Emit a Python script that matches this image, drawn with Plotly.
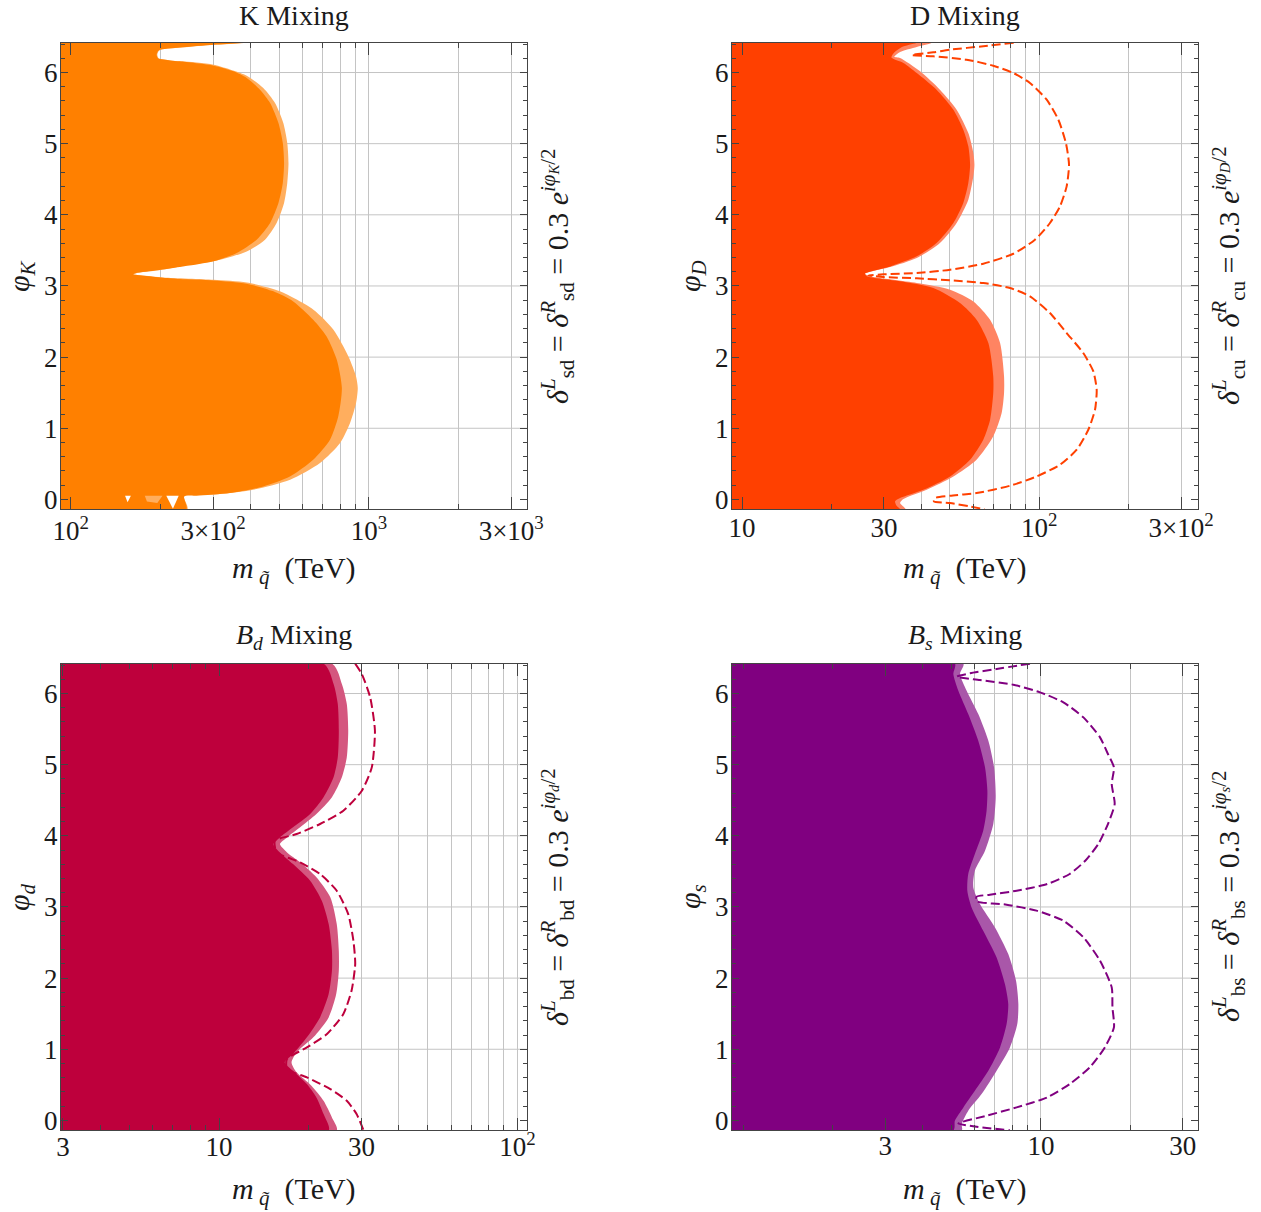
import plotly.graph_objects as go

# ------------------------------------------------------------------
# Data: phi values and squark mass (TeV)
# ------------------------------------------------------------------
# --- K mixing ---
k_dark_phi = [6.42, 6.39, 6.35, 6.31, 6.25, 6.20, 6.17, 6.157, 6.096, 6.017, 5.923, 5.759, 5.572, 5.29, 5.009,
              4.728, 4.447, 4.166, 3.885, 3.650, 3.463, 3.346, 3.266, 3.22, 3.18, 3.165, 3.15, 3.12, 3.097, 3.078,
              3.032, 2.924, 2.783, 2.526, 2.291, 1.963, 1.565, 1.167, 0.839, 0.558, 0.323, 0.183, 0.089, 0.051,
              0.042, -0.14]
k_dark_m = [382, 300, 232, 197, 194, 196, 215, 232, 301, 351, 389, 431, 466, 497, 514,
            519, 514, 497, 466, 420, 360, 301, 232, 195, 165, 162, 170, 200, 232, 301,
            389, 478, 557, 650, 721, 780, 811, 789, 740, 650, 543, 442, 342, 264,
            240, 244]
k_light_phi = [6.42, 6.39, 6.35, 6.31, 6.25, 6.20, 6.17, 6.157, 6.11, 5.956, 5.782, 5.572, 5.29, 5.009, 4.728,
               4.447, 4.166, 3.885, 3.65, 3.486, 3.346, 3.275, 3.22, 3.18, 3.165, 3.15, 3.12, 3.088, 3.05, 2.924,
               2.666, 2.385, 2.01, 1.729, 1.565, 1.354, 1.073, 0.792, 0.511, 0.276, 0.136, 0.066, 0.042, -0.14]
k_light_m = [390, 305, 235, 198, 195, 197, 216, 235, 301, 389, 442, 484, 516, 532, 537,
             532, 519, 490, 448, 389, 301, 232, 197, 166, 162, 172, 205, 301, 389, 503,
             651, 760, 853, 905, 917, 905, 864, 800, 685, 544, 409, 301, 240, 246]
k_gap_m = [209, 230, 220]
k_gap_phi = [0.05, 0.05, -0.13]
k_speck_m = [152, 159, 155]
k_speck_phi = [0.05, 0.05, -0.04]
k_patch_m = [177, 203, 195, 180]
k_patch_phi = [0.05, 0.05, -0.05, -0.03]

# --- D mixing ---
d_dark_phi = [6.42, 6.36, 6.28, 6.21, 6.134, 5.993, 5.759, 5.478, 5.197, 4.962, 4.705, 4.447, 4.166, 3.885, 3.603,
              3.416, 3.275, 3.172, 3.135, 3.065, 2.971, 2.760, 2.526, 2.198, 1.729, 1.495, 1.120, 0.839, 0.558,
              0.323, 0.136, 0.019, -0.028, -0.098, -0.14]
d_dark_m = [38.7, 34.5, 32.5, 31.8, 34.9, 38.7, 45.1, 51.4, 55.5, 57.7, 58.5, 57.7, 55.5, 51.4, 45.1,
            38.7, 31.5, 25.9, 26.3, 34.0, 44.0, 54.1, 61.5, 67.4, 70.0, 70.0, 68.3, 64.8, 58.5,
            50.1, 40.7, 34.0, 32.7, 33.2, 34.0]
d_light_phi = [6.42, 6.36, 6.29, 6.22, 6.204, 6.017, 5.759, 5.478, 5.15, 4.869, 4.705, 4.541, 4.213, 3.885, 3.603,
               3.393, 3.266, 3.172, 3.135, 3.041, 2.948, 2.783, 2.526, 2.198, 1.729, 1.495, 1.214, 0.886, 0.558,
               0.323, 0.136, 0.005, -0.05, -0.14]
d_light_m = [43.5, 38.7, 34.0, 32.5, 34.0, 39.7, 46.3, 52.7, 57.7, 60.0, 60.5, 60.0, 57.7, 52.7, 46.3,
             38.7, 31.5, 25.9, 27.0, 38.7, 50.1, 60.0, 68.3, 73.8, 76.1, 76.1, 74.7, 70.0, 61.5,
             51.4, 41.8, 34.9, 34.0, 35.5]
d_dash_phi = [6.42, 6.37, 6.321, 6.284, 6.246, 6.228, 6.181, 6.096, 5.993, 5.853, 5.618, 5.337, 5.009, 4.705,
              4.40, 4.119, 3.885, 3.650, 3.453, 3.313, 3.228, 3.182, 3.163, 3.149, 3.125, 3.107, 3.079, 3.041,
              2.971, 2.854, 2.619, 2.338, 2.057, 1.799, 1.542, 1.260, 0.979, 0.698, 0.487, 0.323, 0.192, 0.089,
              0.051, 0.019, -0.028, -0.052, -0.099, -0.14]
d_dash_m = [82.0, 64.8, 50.1, 44.0, 37.2, 44.0, 56.9, 70.0, 81.8, 93.0, 105.9, 115.9, 122.9, 125.9,
            123.6, 117.4, 108.6, 96.7, 81.8, 64.8, 50.1, 38.7, 29.9, 26.6, 29.9, 38.7, 50.1, 64.8,
            79.7, 93.0, 108.6, 123.6, 140.6, 152.0, 156.0, 154.0, 146.2, 133.6, 117.4, 98.0, 79.7, 61.5,
            50.1, 44.6, 44.2, 50.1, 58.5, 65.5]

# --- B_d mixing ---
bd_dark_phi = [6.42, 6.134, 5.853, 5.478, 5.103, 4.822, 4.541, 4.306, 4.119, 3.978, 3.884, 3.767, 3.603, 3.369,
               3.088, 2.760, 2.385, 2.104, 1.776, 1.448, 1.167, 0.932, 0.815, 0.698, 0.511, 0.323, 0.089, -0.14]
bd_dark_m = [22.4, 24.2, 25.0, 25.2, 25.0, 24.2, 22.4, 20.2, 17.7, 16.0, 15.2, 16.0, 17.7, 20.2,
             22.1, 23.3, 23.9, 23.9, 23.3, 21.8, 19.7, 17.7, 16.6, 17.7, 19.7, 21.2, 22.4, 23.3]
bd_light_phi = [6.42, 6.134, 5.853, 5.478, 5.103, 4.822, 4.541, 4.306, 4.119, 3.978, 3.884, 3.767, 3.627, 3.416,
                3.135, 2.760, 2.385, 2.104, 1.776, 1.448, 1.167, 0.956, 0.815, 0.675, 0.487, 0.276, 0.042, -0.14]
bd_light_m = [23.9, 25.8, 26.8, 27.1, 26.8, 25.8, 23.9, 21.2, 18.7, 16.9, 16.0, 16.9, 18.7, 21.2,
              23.6, 24.8, 25.2, 25.2, 24.7, 23.3, 20.7, 18.2, 17.5, 18.2, 20.4, 22.4, 23.9, 24.8]
bd_dash_phi = [6.42, 6.274, 5.946, 5.478, 4.962, 4.634, 4.353, 4.166, 4.025, 3.931, 3.767, 3.627, 3.463, 3.228,
               2.900, 2.526, 2.198, 1.823, 1.495, 1.214, 1.026, 0.862, 0.722, 0.604, 0.440, 0.276, 0.089, -0.14]
bd_dash_m = [28.6, 30.1, 32.1, 33.3, 32.5, 30.1, 26.1, 21.8, 18.2, 15.4, 15.6, 18.7, 21.8, 24.8,
             27.1, 28.2, 28.6, 27.8, 26.1, 23.0, 19.7, 16.9, 16.9, 19.7, 23.6, 26.8, 28.9, 30.5]

# --- B_s mixing ---
bs_dark_phi = [6.42, 6.274, 6.04, 5.712, 5.337, 4.962, 4.634, 4.353, 4.072, 3.744, 3.463, 3.228, 2.994, 2.666,
               2.291, 1.917, 1.635, 1.354, 1.026, 0.698, 0.417, 0.183, -0.005, -0.14]
bs_dark_m = [5.14, 5.08, 5.28, 5.70, 6.16, 6.49, 6.61, 6.57, 6.40, 6.00, 5.70, 5.66, 5.85, 6.40,
             7.10, 7.57, 7.77, 7.67, 7.29, 6.66, 6.00, 5.49, 5.14, 5.08]
bs_light_phi = [6.42, 6.274, 6.04, 5.712, 5.337, 4.962, 4.541, 4.166, 3.791, 3.510, 3.275, 3.041, 2.713, 2.338,
                1.963, 1.635, 1.354, 1.026, 0.698, 0.370, 0.136, -0.052, -0.14]
bs_light_m = [5.49, 5.35, 5.63, 6.16, 6.66, 6.96, 7.05, 6.92, 6.49, 6.00, 5.93, 6.24, 7.01, 7.77,
              8.25, 8.40, 8.33, 7.87, 7.10, 6.32, 5.70, 5.42, 5.42]
bs_dash_phi = [6.42, 6.345, 6.284, 6.237, 6.19, 6.124, 6.017, 5.876, 5.665, 5.384, 5.15, 4.962, 4.728, 4.447,
               4.166, 3.885, 3.650, 3.463, 3.322, 3.228, 3.172, 3.144, 3.079, 3.032, 2.948, 2.807, 2.573, 2.245,
               1.87, 1.588, 1.307, 1.026, 0.745, 0.511, 0.323, 0.183, 0.066, -0.043, -0.089, -0.14]
bs_dash_m = [9.19, 7.10, 5.78, 5.21, 6.24, 8.08, 9.93, 11.9, 13.9, 15.8, 16.8, 17.6, 17.3, 17.7,
             16.8, 15.6, 14.1, 12.5, 10.5, 8.29, 6.74, 6.08, 6.08, 7.67, 9.67, 11.9, 13.9, 15.8,
             17.3, 17.4, 17.6, 16.4, 14.6, 12.5, 10.5, 8.29, 6.57, 5.28, 6.08, 7.87]

# --- axes / labels ---
phi_ticks = [0, 1, 2, 3, 4, 5, 6]
phi_grid = [1, 2, 3, 4, 5, 6]
k_tickvals = [100, 300, 1000, 3000]
k_ticktext = ["10<sup>2</sup>", "3×10<sup>2</sup>", "10<sup>3</sup>", "3×10<sup>3</sup>"]
k_minor = [200, 400, 500, 600, 700, 800, 900, 2000]
d_tickvals = [10, 30, 100, 300]
d_ticktext = ["10", "30", "10<sup>2</sup>", "3×10<sup>2</sup>"]
d_minor = [20, 40, 50, 60, 70, 80, 90, 200]
bd_tickvals = [3, 10, 30, 100]
bd_ticktext = ["3", "10", "30", "10<sup>2</sup>"]
bd_minor = [4, 5, 6, 7, 8, 9, 20, 40, 50, 60, 70, 80, 90]
bs_tickvals = [3, 10, 30]
bs_ticktext = ["3", "10", "30"]
bs_minor = [1, 2, 4, 5, 6, 7, 8, 9, 20]

titles = ["K Mixing", "D Mixing", "<i>B<sub>d</sub></i> Mixing", "<i>B<sub>s</sub></i> Mixing"]
ylabels = ["<i>φ<sub>K</sub></i>", "<i>φ<sub>D</sub></i>", "<i>φ<sub>d</sub></i>", "<i>φ<sub>s</sub></i>"]
flav = ["sd", "cu", "bd", "bs"]
phase_sub = ["K", "D", "d", "s"]
xlabel = "<i>m</i><sub> <i>q̃</i></sub>\u00a0\u00a0(TeV)"

# ------------------------------------------------------------------
W, H = 1261, 1212
FONT = "Liberation Serif"
SIZE = 466
FRAME = "#444444"
GRID = "#c4c4c4"
TXT = "#1a1a1a"

panels = [
    dict(l=61, t=43, xr=[1.967, 3.530], dark=(k_dark_m, k_dark_phi), light=(k_light_m, k_light_phi), dash=None,
         c_dark="#FF8000", c_light="#FFAE5E", tv=k_tickvals, tt=k_ticktext, minor=k_minor, so=-2),
    dict(l=732, t=43, xr=[0.966, 2.534], dark=(d_dark_m, d_dark_phi), light=(d_light_m, d_light_phi),
         dash=(d_dash_m, d_dash_phi), c_dark="#FF4000", c_light="#FF8462", tv=d_tickvals, tt=d_ticktext,
         minor=d_minor, so=-5),
    dict(l=61, t=664, xr=[0.4705, 2.032], dark=(bd_dark_m, bd_dark_phi), light=(bd_light_m, bd_light_phi),
         dash=(bd_dash_m, bd_dash_phi), c_dark="#BE003C", c_light="#D4577F", tv=bd_tickvals, tt=bd_ticktext,
         minor=bd_minor, so=-7),
    dict(l=732, t=664, xr=[-0.038, 1.528], dark=(bs_dark_m, bs_dark_phi), light=(bs_light_m, bs_light_phi),
         dash=(bs_dash_m, bs_dash_phi), c_dark="#800080", c_light="#A957A9", tv=bs_tickvals, tt=bs_ticktext,
         minor=bs_minor, so=-8),
]

fig = go.Figure()
layout = dict(width=W, height=H, autosize=False, margin=dict(l=0, r=0, t=0, b=0, pad=0),
              paper_bgcolor="white", plot_bgcolor="white", showlegend=False, annotations=[], shapes=[])


def poly(mvals, phivals, x_left):
    xs = [x_left] + list(mvals) + [x_left]
    ys = [phivals[0]] + list(phivals) + [phivals[-1]]
    return xs, ys


for i, p in enumerate(panels):
    n = "" if i == 0 else str(i + 1)
    xa, ya = "x" + n, "y" + n
    x_left = 10 ** (p["xr"][0] - 0.3)
    for (mv, pv), col in ((p["light"], p["c_light"]), (p["dark"], p["c_dark"])):
        xs, ys = poly(mv, pv, x_left)
        fig.add_trace(go.Scatter(x=xs, y=ys, xaxis=xa, yaxis=ya, mode="lines", fill="toself",
                                 fillcolor=col, line=dict(width=0, color=col, shape="spline", smoothing=0.7),
                                 hoverinfo="skip"))
    if i == 0:
        for mv, pv, col in ((k_gap_m, k_gap_phi, "white"), (k_speck_m, k_speck_phi, "white"),
                            (k_patch_m, k_patch_phi, p["c_light"])):
            fig.add_trace(go.Scatter(x=mv, y=pv, xaxis=xa, yaxis=ya, mode="lines", fill="toself",
                                     fillcolor=col, line=dict(width=0, color=col), hoverinfo="skip"))
    if p["dash"] is not None:
        mv, pv = p["dash"]
        fig.add_trace(go.Scatter(x=mv, y=pv, xaxis=xa, yaxis=ya, mode="lines",
                                 line=dict(color=p["c_dark"], width=2, dash="9px,4px", shape="spline",
                                           smoothing=0.6),
                                 hoverinfo="skip"))

    l, t = p["l"], p["t"]
    xdom = [l / W, (l + SIZE) / W]
    ydom = [1 - (t + SIZE) / H, 1 - t / H]
    layout["xaxis" + n] = dict(
        type="log", range=p["xr"], domain=xdom, anchor=ya, automargin=False, tickmode="array",
        tickvals=p["tv"], ticktext=p["tt"],
        ticks="inside", ticklen=12, tickwidth=1, tickcolor=FRAME, showline=True, linecolor=FRAME, linewidth=1,
        mirror="ticks", showgrid=True, gridcolor=GRID, gridwidth=1, zeroline=False,
        tickfont=dict(family=FONT, size=27, color=TXT), ticklabelstandoff=p["so"],
        minor=dict(tickmode="array", tickvals=p["minor"], ticks="inside", ticklen=5, tickwidth=1,
                   tickcolor=FRAME, showgrid=True, gridcolor=GRID, gridwidth=1))
    layout["yaxis" + n] = dict(
        range=[-0.135, 6.415], domain=ydom, anchor=xa, automargin=False, tickmode="array", tickvals=phi_ticks,
        ticks="inside", ticklen=7, tickwidth=1, tickcolor=FRAME, showline=True, linecolor=FRAME, linewidth=1,
        mirror="ticks", showgrid=False, zeroline=False,
        tickfont=dict(family=FONT, size=27, color=TXT), ticklabelstandoff=-3,
        minor=dict(tick0=0, dtick=0.2, ticks="inside", ticklen=4, tickwidth=1, tickcolor=FRAME, showgrid=False))
    for g in phi_grid:
        layout["shapes"].append(dict(type="line", xref=xa + " domain", yref=ya, x0=0, x1=1, y0=g, y1=g,
                                     line=dict(color=GRID, width=1), layer="below"))

    cx = (l + SIZE / 2) / W
    cy = 1 - (t + SIZE / 2) / H
    ann = layout["annotations"]
    ann.append(dict(text=titles[i], x=cx, y=1 - (t - 28) / H, xref="paper", yref="paper", showarrow=False,
                    xanchor="center", yanchor="middle", font=dict(family=FONT, size=28, color=TXT)))
    ann.append(dict(text=xlabel, x=cx, y=1 - (t + SIZE + 61) / H, xref="paper", yref="paper", showarrow=False,
                    xanchor="center", yanchor="middle", font=dict(family=FONT, size=30, color=TXT)))
    ann.append(dict(text=ylabels[i], x=(l - 40) / W, y=cy, xref="paper", yref="paper", showarrow=False,
                    textangle=-90, xanchor="center", yanchor="middle",
                    font=dict(family=FONT, size=30, color=TXT)))
    f = flav[i]
    rlab = (f"<i>δ</i><sup><i>L</i></sup><sub>{f}</sub> = <i>δ</i><sup><i>R</i></sup><sub>{f}</sub>"
            f" = 0.3 <i>e</i><sup><i>iφ</i><sub><i>{phase_sub[i]}</i></sub>/2</sup>")
    ann.append(dict(text=rlab, x=(l + SIZE + 30) / W, y=cy, xref="paper", yref="paper", showarrow=False,
                    textangle=-90, xanchor="center", yanchor="middle",
                    font=dict(family=FONT, size=30, color=TXT)))

fig.update_layout(**layout)
fig.write_html("out.html", config={"displayModeBar": False},
               post_script="document.body.style.margin='0px';")
